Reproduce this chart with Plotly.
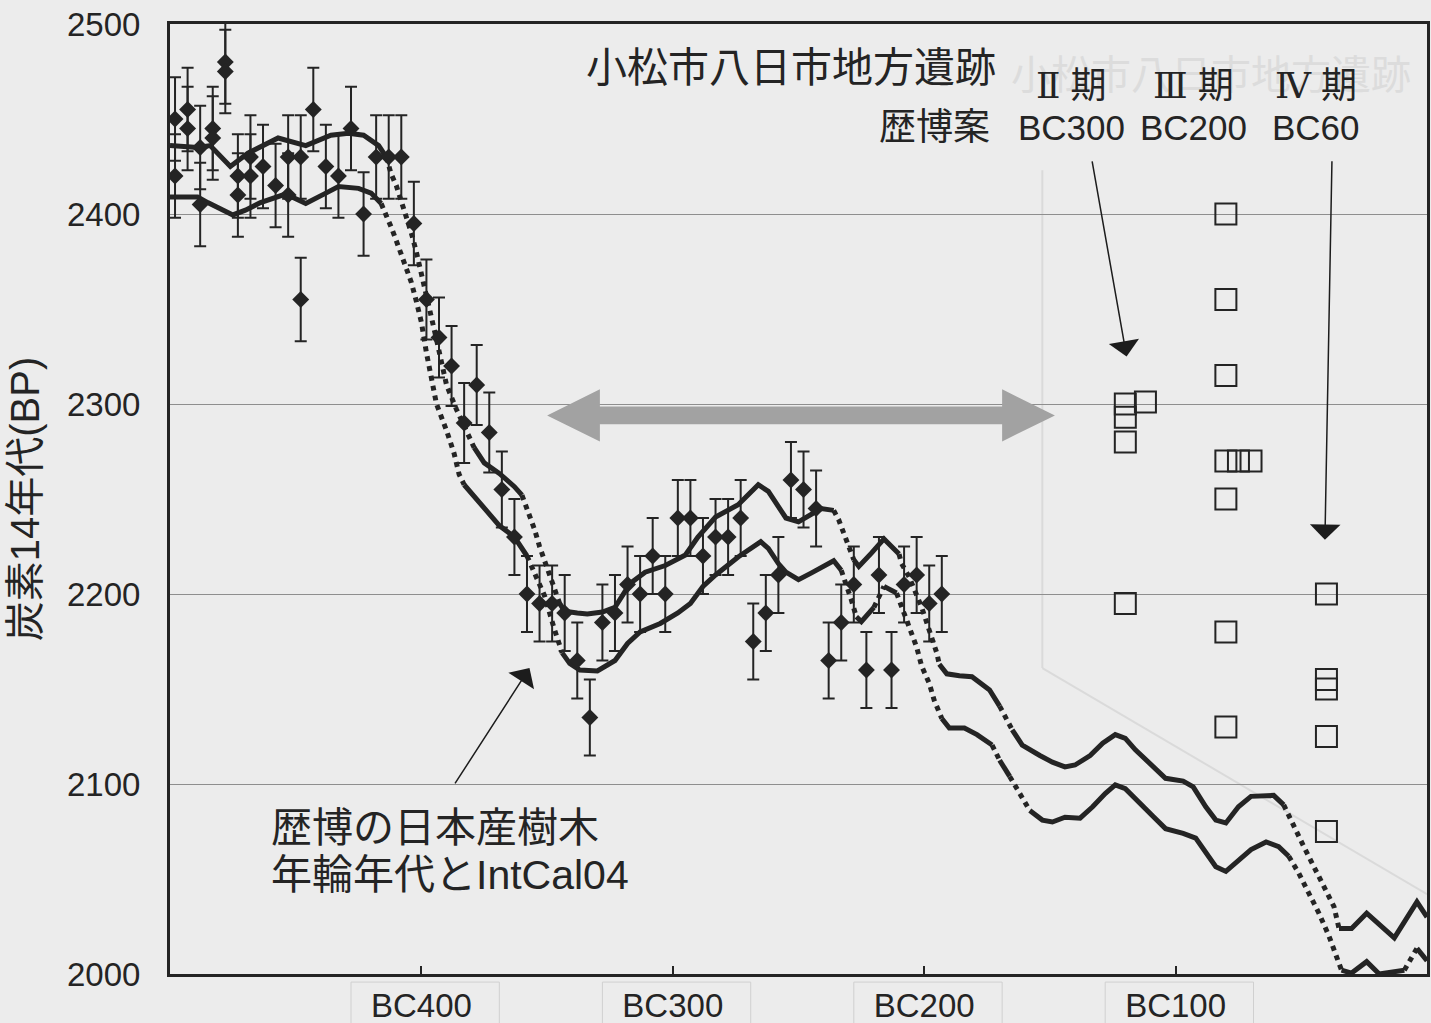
import plotly.graph_objects as go

# ---------------------------------------------------------------------------
# Data.  Years are negative for BC (BC300 -> -300); values are 14C ages (BP).
# ---------------------------------------------------------------------------

# Calibration band (IntCal04 with Japanese tree-ring ages): upper bound
curve_upper_year = [
    -500, -489, -484, -476, -469, -457, -446, -436, -429, -423,
    -417, -414, -412, -410, -408, -406, -404, -402, -400, -398,
    -396, -394, -392, -390, -386, -382, -379, -375, -369, -363,
    -360, -357, -355, -353, -351, -349, -347, -345, -343, -338,
    -334, -328, -323, -317, -311, -303, -295, -290, -283, -274,
    -266, -262, -258, -255, -250, -245, -241, -236, -234, -232,
    -230, -228, -226, -221, -216, -213, -210, -209, -206, -203,
    -201, -199, -197, -195, -194, -191, -186, -181, -174, -170,
    -165, -161, -154, -149, -144, -140, -134, -129, -124, -120,
    -116, -109, -104, -97, -93, -88, -84, -80, -75, -70,
    -61, -57, -53, -49, -45, -41, -37, -35, -30, -24,
    -13, -4, 0,
]
curve_upper_bp = [
    2436, 2435, 2436, 2425, 2432, 2440, 2436, 2441.5, 2442.5, 2441.5,
    2436, 2430, 2421, 2415, 2407, 2399, 2390, 2380, 2369, 2357,
    2346, 2334, 2322, 2310, 2297, 2286, 2277, 2269, 2263.5, 2256.5,
    2252, 2242, 2234, 2225, 2217, 2209, 2201, 2195, 2191, 2190,
    2189.5, 2190.5, 2193, 2205.5, 2211.5, 2215, 2220.5, 2230, 2240.5, 2247,
    2257.5, 2254, 2246, 2240, 2238, 2241.5, 2245, 2244, 2239, 2232,
    2225, 2218, 2214.5, 2221.5, 2229, 2225, 2221, 2216, 2209, 2200,
    2193, 2185, 2177.5, 2169, 2163, 2158, 2157, 2156.5, 2149.5, 2141,
    2128.5, 2120.5, 2115, 2111.5, 2109, 2110, 2115, 2121.5, 2126, 2124,
    2118, 2109, 2103, 2101.5, 2098.5, 2088, 2081, 2079.5, 2088, 2093.5,
    2094, 2089, 2077.5, 2067, 2056.5, 2046, 2035.5, 2024, 2024, 2032,
    2019, 2038, 2030,
]

# Calibration band: lower bound
curve_lower_year = [
    -500, -489, -485, -475, -470, -464, -454, -446, -438, -433,
    -425, -420, -416, -414, -412, -410, -408, -406, -404, -402,
    -400, -398, -396, -394, -390, -387, -385, -383, -376, -369,
    -363, -358, -355, -351, -347, -344, -341, -337, -330, -323,
    -318, -313, -305, -298, -293, -288, -283, -274, -265, -262,
    -258, -255, -250, -245, -239, -236, -233, -231, -229, -227,
    -225, -220, -216, -211, -209, -206, -203, -201, -198, -196,
    -193, -190, -184, -179, -173, -170, -166, -162, -158, -153,
    -149, -144, -138, -133, -128, -124, -120, -115, -109, -104,
    -97, -92, -88, -84, -80, -75, -70, -64, -59, -55,
    -51, -47, -43, -39, -36, -34, -30, -24, -19, -9,
    -4, 0,
]
curve_lower_bp = [
    2409, 2409, 2406, 2399.5, 2402, 2406, 2410.5, 2405.5, 2411, 2414.5,
    2413.5, 2411, 2405.5, 2400, 2393, 2386, 2379, 2372, 2364, 2354,
    2343, 2327, 2314, 2300, 2286, 2274, 2263, 2257.5, 2247, 2236,
    2230, 2220, 2211, 2199, 2181, 2169, 2163.5, 2160, 2159.5, 2165,
    2174, 2180, 2184.5, 2190, 2195, 2204, 2210, 2219.5, 2227.5, 2224,
    2216, 2211.5, 2207.5, 2211, 2215.5, 2217.5, 2212.5, 2205.5, 2197, 2188,
    2185.5, 2193, 2204, 2200.5, 2193, 2183, 2172, 2162, 2153, 2144,
    2134.5, 2129.5, 2129.5, 2126, 2120.5, 2112.5, 2104, 2095, 2086, 2081,
    2080, 2082.5, 2082, 2088, 2095, 2099.5, 2097.5, 2090.5, 2083, 2076.5,
    2074, 2071.5, 2064.5, 2056.5, 2054, 2060, 2065.5, 2069.5, 2067, 2062,
    2053, 2042.5, 2032, 2020, 2009, 2002, 2000.5, 2006.5, 2000, 2002,
    2013.5, 2007,
]

# Japanese tree-ring 14C measurements with 1-sigma errors
ring_year = [
    -498, -498, -493, -493, -488, -488, -483, -483, -478, -478,
    -473, -473, -468, -468, -463, -458, -453, -453, -448, -448,
    -443, -438, -433, -428, -423, -418, -413, -408, -403,
    -398, -393, -388, -383, -378, -373,
    -368, -363, -358, -353, -348, -343, -338, -333, -328, -323,
    -318, -313, -308, -303, -298, -293, -288, -283, -278, -273,
    -268, -263, -258, -253, -248, -243, -238, -233, -228, -223,
    -218, -213, -208, -203, -198, -193,
]
ring_bp = [
    2450, 2420, 2455, 2445, 2435, 2405, 2445, 2440, 2480, 2475,
    2420, 2410, 2430, 2420, 2425, 2415, 2430, 2410, 2430, 2355,
    2455, 2425, 2420, 2445, 2400, 2430, 2430, 2430, 2395,
    2355, 2335, 2320, 2290, 2310, 2285,
    2255, 2230, 2200, 2195, 2195, 2190, 2165, 2135, 2185, 2190,
    2205, 2200, 2220, 2200, 2240, 2240, 2220, 2230, 2230, 2240,
    2175, 2190, 2210, 2260, 2255, 2245, 2165, 2185, 2205, 2160,
    2210, 2160, 2205, 2210, 2195, 2200,
]
ring_err = [
    22, 22, 22, 22, 22, 22, 22, 22, 22, 22,
    22, 22, 22, 22, 22, 22, 22, 22, 22, 22,
    22, 22, 22, 22, 22, 22, 22, 22, 22,
    21, 21, 21, 21, 21, 21,
    20, 20, 20, 20, 20, 20, 20, 20, 20, 20,
    20, 20, 20, 20, 20, 20, 20, 20, 20, 20,
    20, 20, 20, 20, 20, 20, 20, 20, 20, 20,
    20, 20, 20, 20, 20, 20,
]

# Komatsu Yokaichi-jikata site samples, one column per pottery phase
phase2_year = [-120, -120, -112, -120, -120]
phase2_bp = [2300, 2293, 2301, 2280, 2195]
phase3_year = [-80, -80, -80, -80, -75, -70, -80, -80, -80]
phase3_bp = [2400, 2355, 2315, 2270, 2270, 2270, 2250, 2180, 2130]
phase4_year = [-40, -40, -40, -40, -40]
phase4_bp = [2200, 2155, 2150, 2125, 2075]

# phase numerals and the dates proposed for them
phase_numerals = ["Ⅱ", "Ⅲ", "Ⅳ"]
phase_dates = ["BC300", "BC200", "BC60"]
phase_label_year = [-141.5, -93, -44]

x_tick_year = [-400, -300, -200, -100]
x_tick_text = ["BC400", "BC300", "BC200", "BC100"]
y_tick_bp = [2000, 2100, 2200, 2300, 2400, 2500]

# period spanned by the grey double arrow
span_from, span_to, span_bp = -350, -148, 2294

# ---------------------------------------------------------------------------
# Style
# ---------------------------------------------------------------------------
BG = "#ececec"
INK = "#242424"
GRID = "#8e8e8e"
LATIN = "Liberation Sans, Arial, Noto Sans CJK JP, sans-serif"
CJK = "Liberation Sans, Noto Sans CJK JP, sans-serif"
NUMERAL = "DejaVu Serif, Liberation Serif, serif"
STEEP = 2.2  # BP per year; steeper stretches of the curve show as loose dots


def split_by_slope(xs, ys):
    """Split a polyline into gently sloping runs and steep runs."""
    runs = {"solid": ([], []), "dot": ([], [])}
    prev = None
    for i in range(len(xs) - 1):
        slope = abs(ys[i + 1] - ys[i]) / abs(xs[i + 1] - xs[i])
        kind = "dot" if slope > STEEP else "solid"
        rx, ry = runs[kind]
        if kind != prev:
            if rx:
                rx.append(None)
                ry.append(None)
            rx.append(xs[i])
            ry.append(ys[i])
        rx.append(xs[i + 1])
        ry.append(ys[i + 1])
        prev = kind
    return runs


fig = go.Figure()

for cx, cy in ((curve_upper_year, curve_upper_bp), (curve_lower_year, curve_lower_bp)):
    runs = split_by_slope(cx, cy)
    fig.add_trace(go.Scatter(
        x=runs["solid"][0], y=runs["solid"][1], mode="lines",
        line=dict(color=INK, width=5), hoverinfo="skip",
    ))
    fig.add_trace(go.Scatter(
        x=runs["dot"][0], y=runs["dot"][1], mode="lines",
        line=dict(color=INK, width=5, dash="5px,5px"), hoverinfo="skip",
    ))

fig.add_trace(go.Scatter(
    x=ring_year, y=ring_bp, mode="markers",
    marker=dict(symbol="diamond", size=13, color=INK),
    error_y=dict(type="data", array=ring_err, color=INK, thickness=2, width=6),
))

for px, py in ((phase2_year, phase2_bp), (phase3_year, phase3_bp), (phase4_year, phase4_bp)):
    fig.add_trace(go.Scatter(
        x=px, y=py, mode="markers",
        marker=dict(symbol="square-open", size=21, color=INK,
                    line=dict(color=INK, width=2)),
    ))

# ---------------------------------------------------------------------------
# Shapes: faint show-through lines, grey span arrow, tick-label boxes
# ---------------------------------------------------------------------------
shapes = [
    dict(type="line", xref="x", yref="y", x0=-153, y0=2423, x1=-153, y1=2161,
         line=dict(color="#dadada", width=2), layer="below"),
    dict(type="line", xref="x", yref="y", x0=-153, y0=2161, x1=0, y1=2042,
         line=dict(color="#dadada", width=2), layer="below"),
]

head_len, head_half, shaft_half = 21, 13.7, 4.7
a0, a1, ay = span_from, span_to, span_bp
arrow_path = (
    f"M{a0},{ay} L{a0 + head_len},{ay + head_half} L{a0 + head_len},{ay + shaft_half} "
    f"L{a1 - head_len},{ay + shaft_half} L{a1 - head_len},{ay + head_half} L{a1},{ay} "
    f"L{a1 - head_len},{ay - head_half} L{a1 - head_len},{ay - shaft_half} "
    f"L{a0 + head_len},{ay - shaft_half} L{a0 + head_len},{ay - head_half} Z"
)
shapes.append(dict(type="path", xref="x", yref="y", path=arrow_path,
                   fillcolor="#a2a2a2", line=dict(width=0)))

for t in x_tick_year:
    shapes.append(dict(type="rect", xref="x", yref="paper", x0=t - 28, x1=t + 31,
                       y0=-0.07, y1=-0.0085, line=dict(color="#d0d0d0", width=1),
                       layer="below"))

# ---------------------------------------------------------------------------
# Text
# ---------------------------------------------------------------------------
def label(x, y, text, size, color=INK, family=CJK, xanchor="center"):
    return dict(x=x, y=y, xref="x", yref="y", text=text, showarrow=False,
                font=dict(size=size, color=color, family=family),
                xanchor=xanchor, yanchor="middle")


annotations = [
    label(-86, 2473, "小松市八日市地方遺跡", 40, color="#dcdcdc"),
    label(-253, 2477, "小松市八日市地方遺跡", 41),
    label(-196, 2445.5, "歴博案", 37),
    label(-460.6, 2077, "歴博の日本産樹木", 41, xanchor="left"),
    label(-460.6, 2052, "年輪年代とIntCal04", 41, xanchor="left"),
]
for numeral, date, lx in zip(phase_numerals, phase_dates, phase_label_year):
    name = f"<span style='font-family:{NUMERAL}'>{numeral}</span> 期"
    annotations.append(label(lx, 2467.5, name, 36))
    annotations.append(label(lx, 2445.5, date, 35, family=LATIN))


def pointer(x_tip, y_tip, x_tail, y_tail):
    return dict(x=x_tip, y=y_tip, ax=x_tail, ay=y_tail, xref="x", yref="y",
                axref="x", ayref="y", text="", showarrow=True, arrowhead=1,
                arrowsize=3.4, arrowwidth=1.5, arrowcolor="#1c1c1c")


annotations += [
    pointer(-357, 2161, -387, 2099.5),
    pointer(-119.5, 2325, -133.3, 2428.5),
    pointer(-40.6, 2228.5, -37.8, 2428.5),
]

fig.update_layout(
    width=1431, height=1023,
    margin=dict(l=170, r=4, t=24, b=49, autoexpand=False),
    paper_bgcolor=BG, plot_bgcolor=BG,
    showlegend=False,
    font=dict(family=LATIN, color=INK),
    shapes=shapes,
    annotations=annotations,
    xaxis=dict(
        range=[-500, 0], tickvals=x_tick_year, ticktext=x_tick_text,
        ticks="inside", ticklen=8, tickwidth=2, tickcolor=INK,
        showgrid=False, zeroline=False, automargin=False,
        showline=True, linewidth=3, linecolor=INK, mirror=True,
        tickfont=dict(size=33, family=LATIN, color=INK),
        ticklabelstandoff=0,
    ),
    yaxis=dict(
        range=[2000, 2500], tickvals=y_tick_bp, automargin=False,
        ticks="", showgrid=True, gridcolor=GRID, gridwidth=1.2,
        zeroline=False, showline=True, linewidth=3, linecolor=INK, mirror=True,
        tickfont=dict(size=33, family=LATIN, color=INK),
        ticklabelstandoff=20,
        title=dict(text="炭素14年代(BP)", standoff=15,
                   font=dict(size=40, family=CJK, color=INK)),
    ),
)

fig.write_html("out.html")
